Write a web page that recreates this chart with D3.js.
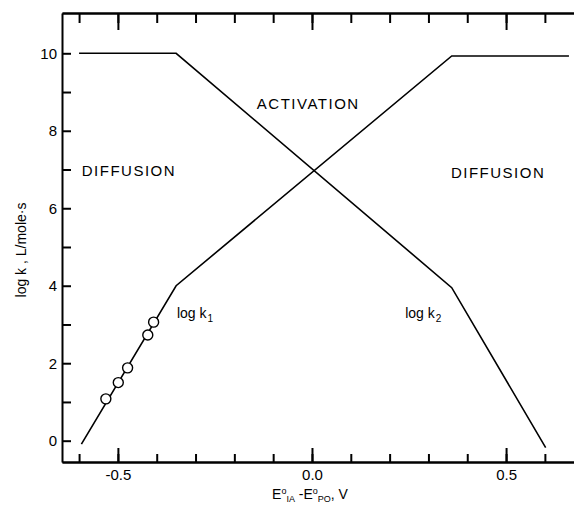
<!DOCTYPE html>
<html>
<head>
<meta charset="utf-8">
<script src="https://cdn.jsdelivr.net/npm/d3@7"></script>
<style>
  body { margin: 0; background: #fff; }
  svg { display: block; font-family: "Liberation Sans", Arial, sans-serif; }
  .axis path, .axis line { stroke: #000; stroke-width: 2; }
  .axis text { font-size: 15px; fill: #000; }
  .note { font-size: 15px; letter-spacing: 1.5px; fill: #000; }
  .lbl { font-size: 14px; fill: #000; }
</style>
</head>
<body>
<div id="chart"></div>
<script>
// ---------- datos ----------
const k1X = [-0.594, -0.35, 0.36, 0.662];
const k1Y = [-0.09, 4.0, 9.93, 9.93];
const k2X = [-0.60, -0.35, 0.36, 0.602];
const k2Y = [10.0, 10.0, 3.95, -0.18];
const ptsX = [-0.531, -0.499, -0.475, -0.423, -0.408];
const ptsY = [1.08, 1.50, 1.88, 2.73, 3.06];

const xTicks = [-0.6, -0.5, -0.4, -0.3, -0.2, -0.1, 0, 0.1, 0.2, 0.3, 0.4, 0.5, 0.6];
const xMajor = [-0.5, 0, 0.5];
const yTicks = [0, 1, 2, 3, 4, 5, 6, 7, 8, 9, 10];
const yLabels = [0, 2, 4, 6, 8, 10];

// ---------- config ----------
const svgWidth = 574, svgHeight = 506;
const plotLeft = 62, plotRight = 574, plotTop = 13, plotBottom = 462;

const svg = d3.select("#chart").append("svg")
  .attr("width", svgWidth)
  .attr("height", svgHeight);

const x = d3.scaleLinear().domain([-0.644, 0.675]).range([plotLeft, plotRight]);
const y = d3.scaleLinear().domain([-0.55, 11.04]).range([plotBottom, plotTop]);

// eje inferior
svg.append("g").attr("class", "axis")
  .attr("transform", `translate(0,${plotBottom})`)
  .call(d3.axisBottom(x).tickValues(xTicks).tickSize(-8).tickSizeOuter(0).tickFormat(""));
svg.append("g").attr("class", "axis")
  .attr("transform", `translate(0,${plotBottom})`)
  .call(d3.axisBottom(x).tickValues(xMajor).tickSize(-14).tickSizeOuter(0).tickPadding(7)
    .tickFormat(d => d === 0 ? "0.0" : d3.format(".1f")(d).replace("−", "-")));

// eje superior
svg.append("g").attr("class", "axis")
  .attr("transform", `translate(0,${plotTop})`)
  .call(d3.axisTop(x).tickValues(xTicks).tickSize(-10).tickSizeOuter(0).tickFormat(""));
svg.append("g").attr("class", "axis")
  .attr("transform", `translate(0,${plotTop})`)
  .call(d3.axisTop(x).tickValues(xMajor).tickSize(-17).tickSizeOuter(0).tickFormat(""));

// eje izquierdo
svg.append("g").attr("class", "axis")
  .attr("transform", `translate(${plotLeft},0)`)
  .call(d3.axisLeft(y).tickValues(yTicks).tickSize(-9).tickSizeOuter(0).tickPadding(5)
    .tickFormat(d => yLabels.includes(d) ? d : ""));

// curvas
const line = d3.line().x(d => x(d[0])).y(d => y(d[1]));
svg.append("path")
  .datum(k1X.map((v, i) => [v, k1Y[i]]))
  .attr("d", line).attr("fill", "none").attr("stroke", "#000").attr("stroke-width", 1.6);
svg.append("path")
  .datum(k2X.map((v, i) => [v, k2Y[i]]))
  .attr("d", line).attr("fill", "none").attr("stroke", "#000").attr("stroke-width", 1.6);

// puntos
svg.selectAll(".pt")
  .data(ptsX.map((v, i) => [v, ptsY[i]]))
  .enter().append("circle")
  .attr("class", "pt")
  .attr("cx", d => x(d[0]))
  .attr("cy", d => y(d[1]))
  .attr("r", 5)
  .attr("fill", "#fff").attr("stroke", "#000").attr("stroke-width", 1.4);

// anotaciones
const notes = [
  { t: "DIFFUSION", x: -0.593, y: 6.98 },
  { t: "ACTIVATION", x: -0.142, y: 8.71 },
  { t: "DIFFUSION", x: 0.358, y: 6.93 }
];
svg.selectAll(".note").data(notes).enter().append("text")
  .attr("class", "note")
  .attr("x", d => x(d.x)).attr("y", d => y(d.y))
  .attr("dy", "0.36em")
  .text(d => d.t);

const logs = [{ sub: "1", x: -0.348 }, { sub: "2", x: 0.24 }];
logs.forEach(l => {
  const t = svg.append("text").attr("class", "lbl")
    .attr("x", x(l.x)).attr("y", 318);
  t.append("tspan").text("log k");
  t.append("tspan").attr("font-size", "10px").attr("dy", 4).attr("dx", 1).text(l.sub);
});

// títulos
svg.append("text").attr("class", "lbl")
  .attr("transform", `translate(26,250) rotate(-90)`)
  .attr("text-anchor", "middle")
  .style("font-size", "14px")
  .text("log k , L/mole·s");

const xt = svg.append("text").attr("class", "lbl")
  .attr("x", 310).attr("y", 499)
  .attr("text-anchor", "middle")
  .style("font-size", "14px");
xt.append("tspan").text("E");
xt.append("tspan").attr("font-size", "9px").attr("dy", -5).text("o");
xt.append("tspan").attr("font-size", "9px").attr("dy", 8).text("IA");
xt.append("tspan").attr("dy", -3).text(" -E");
xt.append("tspan").attr("font-size", "9px").attr("dy", -5).text("o");
xt.append("tspan").attr("font-size", "9px").attr("dy", 8).text("PO");
xt.append("tspan").attr("dy", -3).text(", V");
</script>
</body>
</html>
